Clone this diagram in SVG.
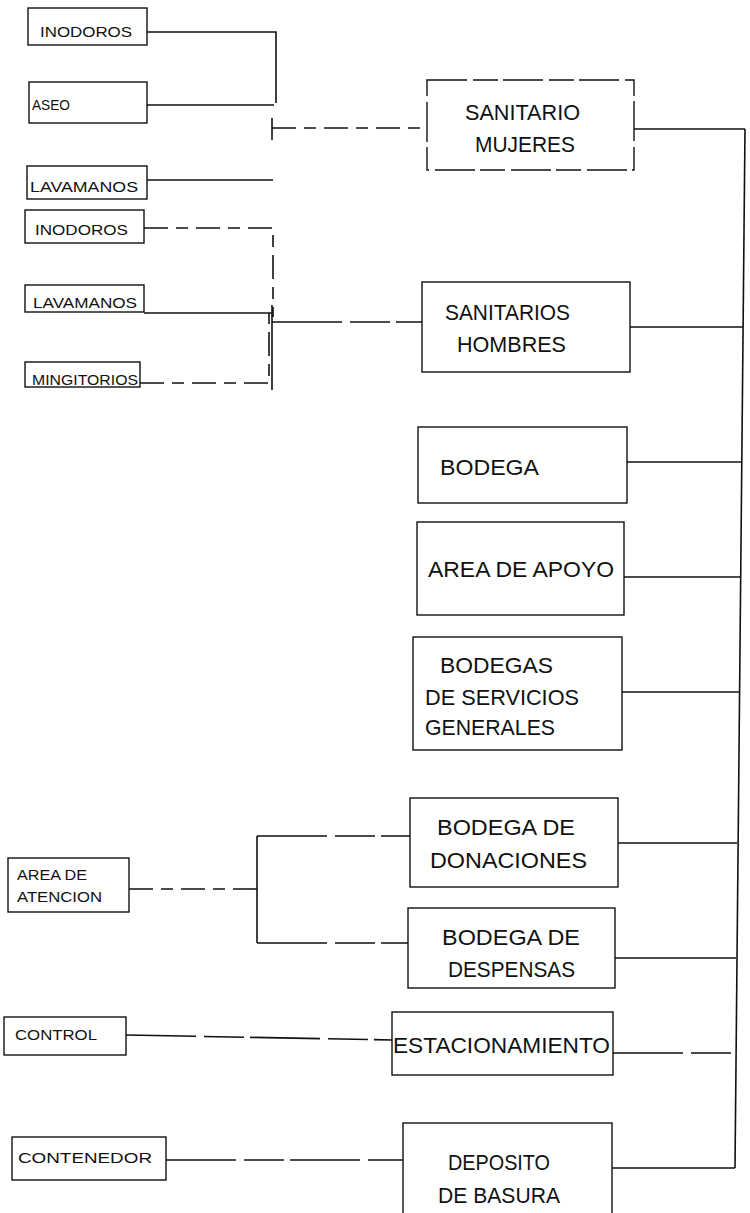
<svg xmlns="http://www.w3.org/2000/svg" width="750" height="1213" viewBox="0 0 750 1213">
<style>
.box{fill:#fff;stroke:#111;stroke-width:1.4}
.dbox{fill:#fff;stroke:#111;stroke-width:1.4;stroke-dasharray:40 6 25 5}
.ln{fill:none;stroke:#111;stroke-width:1.6}
.dl{fill:none;stroke:#111;stroke-width:1.6;stroke-dasharray:24 8 12 8}
.gl{fill:none;stroke:#111;stroke-width:1.6;stroke-dasharray:70 8 40 6}
.s{font-family:"Liberation Sans",Arial,sans-serif;font-size:14px;fill:#111}
.b{font-family:"Liberation Sans",Arial,sans-serif;font-size:22px;fill:#111}
</style>
<rect width="750" height="1213" fill="#fff"/>
<g id="connectors">
<path class="ln" d="M147 32 H276 V103"/>
<path class="ln" d="M147 105 H274"/>
<path class="ln" d="M147 180 H273"/>
<path class="ln" d="M272 118 V140"/>
<path class="dl" d="M272 128 H427"/>
<path class="dl" d="M144 228 H273 V317"/>
<path class="ln" d="M144 313 H272"/>
<path class="dl" d="M140 383 H269 V313"/>
<path class="ln" d="M272 305 V390"/>
<path class="gl" d="M272 322 H422"/>
<path class="ln" d="M634 129 H745"/>
<path class="ln" d="M745 129 L735 1168"/>
<path class="ln" d="M630 327 H743"/>
<path class="ln" d="M627 462 H741"/>
<path class="ln" d="M624 577 H740"/>
<path class="ln" d="M622 692 H739"/>
<path class="ln" d="M618 843 H737"/>
<path class="ln" d="M615 958 H736"/>
<path class="gl" d="M613 1053 H736"/>
<path class="ln" d="M612 1168 H735"/>
<path class="dl" d="M129 889 H257"/>
<path class="ln" d="M257 836 V943"/>
<path class="gl" d="M257 836 H410"/>
<path class="gl" d="M257 943 H408"/>
<path class="gl" d="M126 1035 L392 1040"/>
<path class="gl" d="M166 1160 H403"/>
</g>
<g id="n-inodoros1"><rect class="box" x="28" y="8" width="119" height="37"/><text class="s" x="40" y="37" textLength="92" lengthAdjust="spacingAndGlyphs">INODOROS</text></g>
<g id="n-aseo"><rect class="box" x="29" y="82" width="118" height="41"/><text class="s" x="32" y="110" textLength="38" lengthAdjust="spacingAndGlyphs">ASEO</text></g>
<g id="n-lavamanos1"><rect class="box" x="27" y="166" width="120" height="33"/><text class="s" x="30" y="192" textLength="108" lengthAdjust="spacingAndGlyphs">LAVAMANOS</text></g>
<g id="n-inodoros2"><rect class="box" x="25" y="210" width="119" height="33"/><text class="s" x="35" y="235" textLength="93" lengthAdjust="spacingAndGlyphs">INODOROS</text></g>
<g id="n-lavamanos2"><rect class="box" x="25" y="285" width="119" height="27"/><text class="s" x="33" y="308" textLength="104" lengthAdjust="spacingAndGlyphs">LAVAMANOS</text></g>
<g id="n-mingitorios"><rect class="box" x="25" y="362" width="115" height="25"/><text class="s" x="32" y="385" textLength="106" lengthAdjust="spacingAndGlyphs">MINGITORIOS</text></g>
<g id="n-sanitario-mujeres"><rect class="dbox" x="427" y="80" width="207" height="90"/><text class="b" x="465" y="120" textLength="115" lengthAdjust="spacingAndGlyphs">SANITARIO</text><text class="b" x="475" y="152" textLength="100" lengthAdjust="spacingAndGlyphs">MUJERES</text></g>
<g id="n-sanitarios-hombres"><rect class="box" x="422" y="282" width="208" height="90"/><text class="b" x="445" y="320" textLength="125" lengthAdjust="spacingAndGlyphs">SANITARIOS</text><text class="b" x="457" y="352" textLength="109" lengthAdjust="spacingAndGlyphs">HOMBRES</text></g>
<g id="n-bodega"><rect class="box" x="418" y="427" width="209" height="76"/><text class="b" x="440" y="475" textLength="99" lengthAdjust="spacingAndGlyphs">BODEGA</text></g>
<g id="n-area-apoyo"><rect class="box" x="417" y="522" width="207" height="93"/><text class="b" x="428" y="577" textLength="186" lengthAdjust="spacingAndGlyphs">AREA DE APOYO</text></g>
<g id="n-bodegas-servicios"><rect class="box" x="413" y="637" width="209" height="113"/><text class="b" x="440" y="673" textLength="113" lengthAdjust="spacingAndGlyphs">BODEGAS</text><text class="b" x="425" y="705" textLength="154" lengthAdjust="spacingAndGlyphs">DE SERVICIOS</text><text class="b" x="425" y="735" textLength="130" lengthAdjust="spacingAndGlyphs">GENERALES</text></g>
<g id="n-area-atencion"><rect class="box" x="8" y="858" width="121" height="54"/><text class="s" x="17" y="880" textLength="70" lengthAdjust="spacingAndGlyphs">AREA DE</text><text class="s" x="17" y="902" textLength="85" lengthAdjust="spacingAndGlyphs">ATENCION</text></g>
<g id="n-bodega-donaciones"><rect class="box" x="410" y="798" width="208" height="89"/><text class="b" x="437" y="835" textLength="138" lengthAdjust="spacingAndGlyphs">BODEGA DE</text><text class="b" x="430" y="868" textLength="157" lengthAdjust="spacingAndGlyphs">DONACIONES</text></g>
<g id="n-bodega-despensas"><rect class="box" x="408" y="908" width="207" height="80"/><text class="b" x="442" y="945" textLength="138" lengthAdjust="spacingAndGlyphs">BODEGA DE</text><text class="b" x="448" y="977" textLength="127" lengthAdjust="spacingAndGlyphs">DESPENSAS</text></g>
<g id="n-control"><rect class="box" x="4" y="1017" width="122" height="38"/><text class="s" x="15" y="1040" textLength="82" lengthAdjust="spacingAndGlyphs">CONTROL</text></g>
<g id="n-estacionamiento"><rect class="box" x="392" y="1012" width="221" height="63"/><text class="b" x="393" y="1053" textLength="217" lengthAdjust="spacingAndGlyphs">ESTACIONAMIENTO</text></g>
<g id="n-contenedor"><rect class="box" x="12" y="1137" width="154" height="43"/><text class="s" x="18" y="1163" textLength="134" lengthAdjust="spacingAndGlyphs">CONTENEDOR</text></g>
<g id="n-deposito-basura"><rect class="box" x="403" y="1123" width="209" height="95"/><text class="b" x="448" y="1170" textLength="102" lengthAdjust="spacingAndGlyphs">DEPOSITO</text><text class="b" x="438" y="1203" textLength="122" lengthAdjust="spacingAndGlyphs">DE BASURA</text></g>
</svg>
